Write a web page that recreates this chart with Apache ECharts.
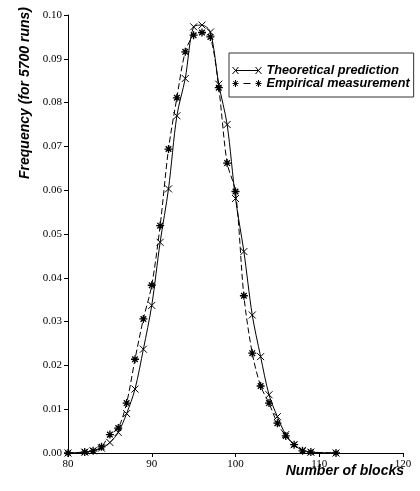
<!DOCTYPE html>
<html>
<head>
<meta charset="utf-8">
<script src="https://cdn.jsdelivr.net/npm/echarts@6/dist/echarts.min.js"></script>
<style>
  html, body { margin: 0; padding: 0; background: #fff; }
  #chart { width: 420px; height: 491px; }
</style>
</head>
<body>
<div id="chart"></div>
<script>
// number of blocks (x)
var blocks = [80, 82, 83, 84, 85, 86, 87, 88, 89, 90, 91, 92, 93, 94, 95, 96, 97, 98, 99, 100,
              101, 102, 103, 104, 105, 106, 107, 108, 109, 112];
// frequencies
var theoretical = [0.0000, 0.0002, 0.0005, 0.0011, 0.0024, 0.0047, 0.0090, 0.0146, 0.0237, 0.0337,
                   0.0481, 0.0603, 0.0770, 0.0855, 0.0973, 0.0977, 0.0961, 0.0842, 0.0750, 0.0581,
                   0.0460, 0.0315, 0.0220, 0.0133, 0.0083, 0.0042, 0.0019, 0.0006, 0.0002, 0.0000];
var empirical = [0.0000, 0.0002, 0.0005, 0.0014, 0.0042, 0.0057, 0.0114, 0.0214, 0.0306, 0.0383,
                 0.0519, 0.0694, 0.0811, 0.0916, 0.0954, 0.0960, 0.0950, 0.0834, 0.0662, 0.0597,
                 0.0359, 0.0228, 0.0153, 0.0114, 0.0068, 0.0039, 0.0019, 0.0005, 0.0002, 0.0000];
var seriesNames = ['Theoretical prediction', 'Empirical measurement'];

// marker shapes
var crossSym = 'path://M0,0L10,10M10,0L0,10';
var starSym = 'path://M5,0L5,10M0,5L10,5M1.5,1.5L8.5,8.5M8.5,1.5L1.5,8.5';
// legend icons: marker - line - marker
var crossIcon = 'path://M0,0L6,7M6,0L0,7M3,3.5L26,3.5M23,0L29,7M29,0L23,7';
var starIcon = 'path://M3,0L3,7M0,3.5L6,3.5M0.8,1L5.2,6M5.2,1L0.8,6M11,3.5L18,3.5M26,0L26,7M23,3.5L29,3.5M23.8,1L28.2,6M28.2,1L23.8,6';

function pairs(ys) {
    return blocks.map(function (x, i) { return [x, ys[i]]; });
}

var myChart = echarts.init(document.getElementById('chart'));

var titleFont = 'italic bold 14px "Liberation Sans", Arial, sans-serif';

var option = {
    animation: false,
    backgroundColor: '#fff',
    grid: { left: 68, right: 17, top: 15, bottom: 38, outerBoundsMode: 'none' },
    legend: {
        orient: 'vertical',
        left: 229,
        top: 53,
        padding: [11, 4, 7, 3],
        itemGap: 0,
        itemWidth: 29,
        itemHeight: 7,
        borderColor: '#333',
        borderWidth: 1,
        backgroundColor: '#fff',
        selectedMode: false,
        itemStyle: { color: 'transparent', borderColor: '#000', borderWidth: 1 },
        lineStyle: { width: 0 },
        textStyle: {
            fontFamily: '"Liberation Sans", Arial, sans-serif',
            fontStyle: 'italic',
            fontWeight: 'bold',
            fontSize: 12.7,
            lineHeight: 11,
            color: '#000'
        },
        data: [
            { name: seriesNames[0], icon: crossIcon },
            { name: seriesNames[1], icon: starIcon }
        ]
    },
    xAxis: {
        type: 'value',
        min: 80,
        max: 120,
        interval: 10,
        splitLine: { show: false },
        axisLine: { lineStyle: { color: '#000', width: 1 } },
        axisTick: { length: 4, lineStyle: { color: '#000' } },
        axisLabel: {
            margin: 6,
            color: '#000',
            fontFamily: '"Liberation Serif", "Times New Roman", serif',
            fontSize: 11
        }
    },
    yAxis: {
        type: 'value',
        min: 0,
        max: 0.1,
        interval: 0.01,
        splitLine: { show: false },
        axisLine: { show: true, lineStyle: { color: '#000', width: 1 } },
        axisTick: { show: true, length: 4, lineStyle: { color: '#000' } },
        axisLabel: {
            margin: 6,
            color: '#000',
            fontFamily: '"Liberation Serif", "Times New Roman", serif',
            fontSize: 11,
            formatter: function (v) { return v.toFixed(2); }
        }
    },
    graphic: [
        {
            type: 'text',
            x: 25,
            y: 93,
            rotation: Math.PI / 2,
            style: {
                text: 'Frequency (for 5700 runs)',
                font: titleFont,
                fill: '#000',
                align: 'center',
                verticalAlign: 'middle'
            }
        },
        {
            type: 'text',
            x: 404,
            y: 471,
            style: {
                text: 'Number of blocks',
                font: titleFont,
                fill: '#000',
                align: 'right',
                verticalAlign: 'middle'
            }
        }
    ],
    series: [
        {
            name: seriesNames[0],
            type: 'line',
            data: pairs(theoretical),
            smooth: 0.3,
            symbol: crossSym,
            symbolSize: 7,
            color: '#000',
            lineStyle: { color: '#000', width: 1 },
            itemStyle: { color: '#000', borderColor: '#000', borderWidth: 1 },
            z: 3
        },
        {
            name: seriesNames[1],
            type: 'line',
            data: pairs(empirical),
            smooth: 0.3,
            symbol: starSym,
            symbolSize: 8,
            color: '#000',
            lineStyle: { color: '#000', width: 1, type: [6, 3] },
            itemStyle: { color: '#000', borderColor: '#000', borderWidth: 1.3 },
            z: 2
        }
    ]
};

myChart.setOption(option);
</script>
</body>
</html>
